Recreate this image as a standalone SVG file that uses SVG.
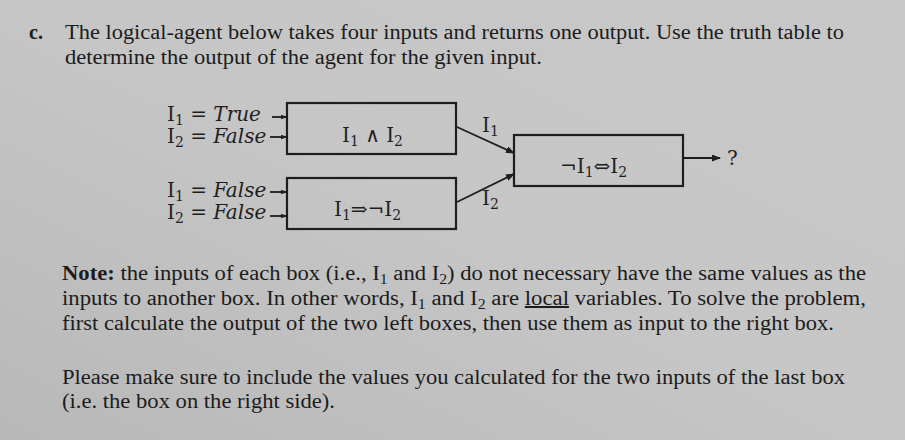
<svg xmlns="http://www.w3.org/2000/svg" width="905" height="440" viewBox="0 0 905 440">
<defs>
<linearGradient id="bg" x1="0" y1="1" x2="1" y2="0">
<stop offset="0" stop-color="#b8b8b8"/>
<stop offset="0.5" stop-color="#c6c6c6"/>
<stop offset="1" stop-color="#c8c8c8"/>
</linearGradient>
<marker id="ah" markerUnits="userSpaceOnUse" markerWidth="9" markerHeight="7" refX="8" refY="3.5" orient="auto">
<path d="M0,0 L9,3.5 L0,7 z" fill="#1e1e1e"/>
</marker>
<marker id="ahs" markerUnits="userSpaceOnUse" markerWidth="7" markerHeight="6" refX="6.5" refY="3" orient="auto">
<path d="M0,0.5 L7,3 L0,5.5 z" fill="#1e1e1e"/>
</marker>
</defs>
<style>
.p{font-family:"Liberation Serif","Times New Roman",serif;font-size:20px;fill:#1c1c1c}
.m{font-family:"DejaVu Serif","Liberation Serif",serif;font-size:20px;fill:#1e1e1e}
.it{font-style:italic}
.box{fill:none;stroke:#1e1e1e;stroke-width:2.2}
.ln{fill:none;stroke:#1e1e1e;stroke-width:1.8}
</style>
<rect width="905" height="440" fill="url(#bg)"/>

<g id="heading">
<text class="p" x="29" y="39" font-weight="bold">c.</text>
<text class="p" x="65" y="39" textLength="779" lengthAdjust="spacingAndGlyphs">The logical-agent below takes four inputs and returns one output. Use the truth table to</text>
<text class="p" x="65" y="64" textLength="477" lengthAdjust="spacingAndGlyphs">determine the output of the agent for the given input.</text>
</g>

<g id="input-labels">
<text class="m" x="167" y="121">I<tspan font-size="14" dy="4">1</tspan><tspan dy="-4"> = </tspan><tspan class="it">True</tspan></text>
<text class="m" x="167" y="143">I<tspan font-size="14" dy="4">2</tspan><tspan dy="-4"> = </tspan><tspan class="it">False</tspan></text>
<text class="m" x="167" y="197">I<tspan font-size="14" dy="4">1</tspan><tspan dy="-4"> = </tspan><tspan class="it">False</tspan></text>
<text class="m" x="167" y="219">I<tspan font-size="14" dy="4">2</tspan><tspan dy="-4"> = </tspan><tspan class="it">False</tspan></text>
</g>

<g id="box-and">
<rect class="box" x="287" y="103" width="169" height="51"/>
<text class="m" x="342" y="142">I<tspan font-size="14" dy="4">1</tspan><tspan dy="-4"> ∧ I</tspan><tspan font-size="14" dy="4">2</tspan></text>
</g>

<g id="box-implies">
<rect class="box" x="287" y="178" width="169" height="51"/>
<text class="m" x="334" y="216">I<tspan font-size="14" dy="4">1</tspan><tspan dy="-4">⇒¬I</tspan><tspan font-size="14" dy="4">2</tspan></text>
</g>

<g id="box-iff">
<rect class="box" x="514" y="135" width="169" height="51"/>
<text class="m" x="560" y="173">¬I<tspan font-size="14" dy="4">1</tspan><tspan dy="-4">⇔I</tspan><tspan font-size="14" dy="4">2</tspan></text>
</g>

<g id="connectors">
<line class="ln" x1="272" y1="117" x2="287" y2="117" marker-end="url(#ahs)"/>
<line class="ln" x1="270" y1="137" x2="287" y2="137" marker-end="url(#ahs)"/>
<line class="ln" x1="270" y1="192" x2="287" y2="192" marker-end="url(#ahs)"/>
<line class="ln" x1="270" y1="216" x2="287" y2="216" marker-end="url(#ahs)"/>
<line class="ln" x1="457" y1="127" x2="514" y2="153" marker-end="url(#ah)"/>
<line class="ln" x1="457" y1="202" x2="514" y2="174" marker-end="url(#ah)"/>
<line class="ln" x1="684" y1="158" x2="720" y2="158" marker-end="url(#ah)"/>
<text class="m" x="482" y="132">I<tspan font-size="14" dy="4">1</tspan></text>
<text class="m" x="482" y="205">I<tspan font-size="14" dy="4">2</tspan></text>
<text class="m" x="727" y="165" font-size="18">?</text>
</g>

<g id="note">
<text class="p" x="62" y="280" textLength="804" lengthAdjust="spacingAndGlyphs"><tspan font-weight="bold">Note:</tspan> the inputs of each box (i.e., I<tspan font-size="14" dy="4">1</tspan><tspan dy="-4"> and I</tspan><tspan font-size="14" dy="4">2</tspan><tspan dy="-4">) do not necessary have the same values as the</tspan></text>
<text class="p" x="62" y="305" textLength="804" lengthAdjust="spacingAndGlyphs">inputs to another box. In other words, I<tspan font-size="14" dy="4">1</tspan><tspan dy="-4"> and I</tspan><tspan font-size="14" dy="4">2</tspan><tspan dy="-4"> are </tspan><tspan text-decoration="underline">local</tspan> variables. To solve the problem,</text>
<text class="p" x="62" y="330" textLength="772" lengthAdjust="spacingAndGlyphs">first calculate the output of the two left boxes, then use them as input to the right box.</text>
<text class="p" x="62" y="384" textLength="783" lengthAdjust="spacingAndGlyphs">Please make sure to include the values you calculated for the two inputs of the last box</text>
<text class="p" x="62" y="408" textLength="273" lengthAdjust="spacingAndGlyphs">(i.e. the box on the right side).</text>
</g>
</svg>
